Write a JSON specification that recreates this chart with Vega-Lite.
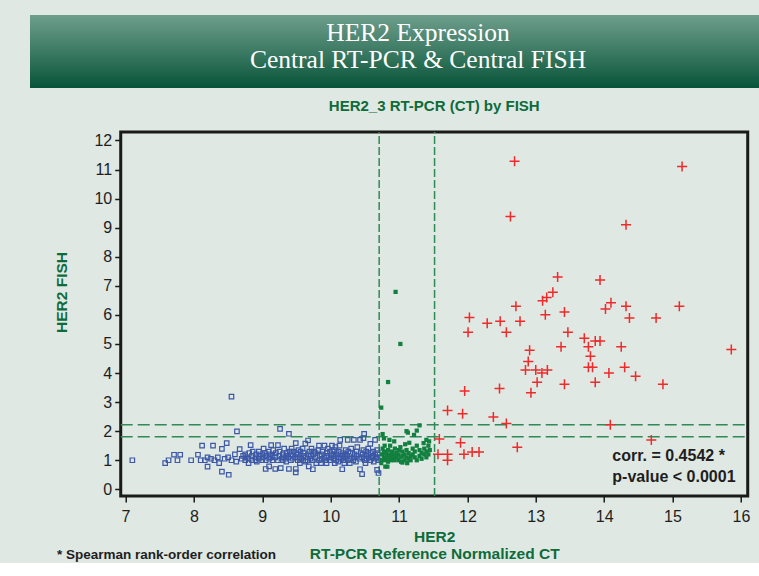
{
  "$schema": "https://vega.github.io/schema/vega-lite/v6.json",
  "background": "#dfe8e3",
  "padding": {"left": 30, "top": 15, "right": -83, "bottom": 0},
  "spacing": 9,
  "center": true,
  "config": {
    "view": {"stroke": null},
    "font": "Liberation Sans, Arial, sans-serif"
  },
  "title": {
    "text": "* Spearman rank-order correlation",
    "orient": "bottom",
    "anchor": "start",
    "offset": -15,
    "dx": 27,
    "fontSize": 13.5,
    "fontWeight": "bold",
    "color": "#1e1e1e",
    "font": "Liberation Sans, Arial, sans-serif"
  },
  "datasets": {
    "banner": [
      {"t": "HER2 Expression", "p": 0.72},
      {"t": "Central RT-PCR & Central FISH", "p": 1.8}
    ],
    "blue": [
      {"x":7.1,"y":1.0},{"x":7.58,"y":0.9},{"x":7.63,"y":1.0},{"x":7.71,"y":1.19},{"x":7.8,"y":1.19},{"x":7.76,"y":1.0},{"x":7.96,"y":1.0},{"x":8.06,"y":1.19},{"x":8.12,"y":1.5},{"x":8.1,"y":1.0},{"x":8.16,"y":1.0},{"x":8.2,"y":1.1},{"x":8.2,"y":0.78},{"x":8.28,"y":1.5},{"x":8.25,"y":1.05},{"x":8.3,"y":1.0},{"x":8.35,"y":1.1},{"x":8.37,"y":0.9},{"x":8.41,"y":1.39},{"x":8.48,"y":1.59},{"x":8.41,"y":0.61},{"x":8.51,"y":0.5},{"x":8.45,"y":1.05},{"x":8.5,"y":1.1},{"x":8.55,"y":1.0},{"x":8.55,"y":3.19},{"x":8.63,"y":1.99},{"x":8.6,"y":1.2},{"x":8.62,"y":0.95},{"x":8.67,"y":1.38},{"x":8.7,"y":1.05},{"x":8.72,"y":1.15},
      {"x":8.75,"y":1.0},{"x":8.75,"y":1.2},{"x":8.76,"y":1.1},
      {"x":8.8,"y":0.9},{"x":8.8,"y":1.05},{"x":8.81,"y":1.25},{"x":8.83,"y":1.52},
      {"x":8.85,"y":1.0},{"x":8.85,"y":1.15},{"x":8.86,"y":1.3},
      {"x":8.9,"y":1.1},{"x":8.9,"y":1.0},{"x":8.91,"y":1.2},{"x":8.92,"y":0.95},
      {"x":8.95,"y":1.05},{"x":8.95,"y":1.3},{"x":8.96,"y":1.15},
      {"x":9.0,"y":1.0},{"x":9.0,"y":1.2},{"x":9.01,"y":1.1},{"x":9.02,"y":1.4},
      {"x":9.05,"y":0.7},{"x":9.05,"y":1.0},{"x":9.06,"y":1.15},{"x":9.04,"y":1.25},
      {"x":9.1,"y":0.79},{"x":9.1,"y":1.05},{"x":9.11,"y":1.2},{"x":9.09,"y":1.3},{"x":9.12,"y":1.1},
      {"x":9.13,"y":1.52},
      {"x":9.15,"y":1.0},{"x":9.15,"y":1.15},{"x":9.16,"y":1.35},
      {"x":9.19,"y":0.7},{"x":9.19,"y":1.1},{"x":9.2,"y":1.25},
      {"x":9.23,"y":1.52},{"x":9.23,"y":1.0},
      {"x":9.26,"y":2.08},{"x":9.25,"y":1.15},{"x":9.25,"y":1.3},
      {"x":9.27,"y":0.73},{"x":9.28,"y":1.05},
      {"x":9.3,"y":1.0},{"x":9.3,"y":1.2},{"x":9.31,"y":1.1},{"x":9.32,"y":1.4},
      {"x":9.35,"y":0.95},{"x":9.35,"y":1.15},{"x":9.36,"y":1.25},{"x":9.34,"y":1.05},
      {"x":9.39,"y":0.7},{"x":9.39,"y":1.91},{"x":9.38,"y":1.1},{"x":9.4,"y":1.3},
      {"x":9.42,"y":1.0},{"x":9.42,"y":1.2},{"x":9.43,"y":1.4},
      {"x":9.45,"y":1.05},{"x":9.45,"y":1.15},{"x":9.46,"y":1.3},
      {"x":9.49,"y":0.7},{"x":9.49,"y":0.58},{"x":9.49,"y":1.59},{"x":9.48,"y":1.1},{"x":9.5,"y":1.25},
      {"x":9.52,"y":1.0},{"x":9.52,"y":1.2},{"x":9.53,"y":1.35},
      {"x":9.55,"y":0.9},{"x":9.55,"y":1.1},{"x":9.56,"y":1.3},{"x":9.57,"y":1.05},
      {"x":9.6,"y":1.0},{"x":9.6,"y":1.15},{"x":9.61,"y":1.25},{"x":9.59,"y":1.4},
      {"x":9.63,"y":1.57},{"x":9.63,"y":0.95},{"x":9.64,"y":1.1},
      {"x":9.67,"y":1.68},{"x":9.67,"y":1.2},{"x":9.66,"y":1.0},
      {"x":9.68,"y":0.79},{"x":9.69,"y":1.3},
      {"x":9.7,"y":1.05},{"x":9.71,"y":1.15},{"x":9.72,"y":1.4},
      {"x":9.74,"y":0.69},{"x":9.74,"y":1.0},{"x":9.75,"y":1.2},{"x":9.76,"y":1.3},
      {"x":9.78,"y":1.1},{"x":9.78,"y":1.25},{"x":9.79,"y":0.9},
      {"x":9.83,"y":1.5},{"x":9.83,"y":1.0},{"x":9.84,"y":1.15},{"x":9.82,"y":1.35},
      {"x":9.87,"y":1.05},{"x":9.87,"y":1.2},{"x":9.88,"y":1.3},{"x":9.86,"y":0.9},
      {"x":9.91,"y":1.5},{"x":9.91,"y":1.1},{"x":9.92,"y":1.0},
      {"x":9.95,"y":1.15},{"x":9.95,"y":1.25},{"x":9.96,"y":1.4},{"x":9.94,"y":0.9},
      {"x":10.0,"y":1.0},{"x":10.0,"y":1.1},{"x":10.01,"y":1.2},{"x":9.99,"y":1.3},{"x":10.02,"y":1.5},
      {"x":10.04,"y":1.05},{"x":10.04,"y":1.15},{"x":10.05,"y":1.35},{"x":10.06,"y":0.9},
      {"x":10.08,"y":1.0},{"x":10.08,"y":1.2},{"x":10.09,"y":1.25},{"x":10.07,"y":1.45},
      {"x":10.12,"y":1.1},{"x":10.12,"y":1.3},{"x":10.11,"y":0.95},{"x":10.13,"y":1.5},
      {"x":10.14,"y":1.7},{"x":10.15,"y":1.05},
      {"x":10.17,"y":0.69},{"x":10.17,"y":1.15},{"x":10.18,"y":1.25},{"x":10.19,"y":1.0},
      {"x":10.21,"y":1.1},{"x":10.21,"y":1.2},{"x":10.22,"y":1.35},{"x":10.2,"y":0.9},
      {"x":10.25,"y":1.7},{"x":10.25,"y":1.0},{"x":10.26,"y":1.3},{"x":10.24,"y":1.15},
      {"x":10.29,"y":1.05},{"x":10.29,"y":1.25},{"x":10.3,"y":1.4},{"x":10.28,"y":0.9},
      {"x":10.34,"y":1.7},{"x":10.34,"y":1.1},{"x":10.35,"y":1.2},{"x":10.33,"y":1.0},
      {"x":10.38,"y":1.15},{"x":10.38,"y":1.3},{"x":10.39,"y":1.45},{"x":10.37,"y":0.95},
      {"x":10.43,"y":1.7},{"x":10.43,"y":0.69},{"x":10.42,"y":1.05},{"x":10.44,"y":1.25},
      {"x":10.46,"y":0.52},{"x":10.46,"y":1.1},{"x":10.47,"y":1.2},
      {"x":10.48,"y":1.76},{"x":10.48,"y":1.35},
      {"x":10.49,"y":1.91},{"x":10.5,"y":1.0},
      {"x":10.52,"y":1.15},{"x":10.52,"y":1.3},{"x":10.53,"y":1.05},{"x":10.51,"y":0.9},
      {"x":10.55,"y":1.2},{"x":10.55,"y":1.4},{"x":10.56,"y":1.1},
      {"x":10.58,"y":1.56},{"x":10.58,"y":1.0},{"x":10.59,"y":1.25},
      {"x":10.62,"y":1.1},{"x":10.62,"y":1.3},{"x":10.61,"y":1.15},{"x":10.63,"y":0.95},
      {"x":10.65,"y":1.7},{"x":10.65,"y":1.2},{"x":10.66,"y":1.05},
      {"x":10.68,"y":0.67},{"x":10.68,"y":1.35},{"x":10.67,"y":1.1},
      {"x":10.7,"y":0.56},{"x":10.7,"y":1.0},{"x":10.69,"y":1.25}
    ],
    "green": [
      {"x":10.95,"y":6.79},{"x":11.02,"y":5.0},{"x":10.84,"y":3.69},{"x":10.74,"y":2.81},{"x":11.3,"y":2.2},{"x":11.11,"y":2.0},{"x":11.13,"y":1.95},{"x":11.26,"y":2.02},{"x":11.22,"y":1.87},{"x":10.76,"y":1.9},{"x":11.4,"y":1.7},{"x":11.36,"y":1.59},{"x":10.8,"y":0.78},{"x":10.83,"y":0.78},{"x":11.05,"y":0.92},{"x":11.12,"y":0.9},{"x":10.78,"y":1.75},{"x":10.86,"y":1.7},{"x":10.93,"y":1.65},
      {"x":10.75,"y":1.0},{"x":10.75,"y":1.2},{"x":10.76,"y":1.4},{"x":10.74,"y":0.9},
      {"x":10.78,"y":1.1},{"x":10.78,"y":1.3},{"x":10.79,"y":1.5},
      {"x":10.81,"y":1.0},{"x":10.81,"y":1.25},{"x":10.82,"y":1.15},
      {"x":10.84,"y":1.05},{"x":10.84,"y":1.35},{"x":10.85,"y":1.2},{"x":10.84,"y":0.95},
      {"x":10.87,"y":1.1},{"x":10.87,"y":1.5},{"x":10.88,"y":1.0},
      {"x":10.9,"y":1.2},{"x":10.9,"y":1.3},{"x":10.91,"y":1.05},
      {"x":10.93,"y":1.15},{"x":10.93,"y":1.0},{"x":10.94,"y":1.4},
      {"x":10.96,"y":1.1},{"x":10.96,"y":1.25},
      {"x":10.99,"y":1.0},{"x":10.99,"y":1.2},{"x":11.0,"y":1.35},
      {"x":11.02,"y":1.1},{"x":11.02,"y":1.45},{"x":11.03,"y":0.95},
      {"x":11.05,"y":1.15},{"x":11.05,"y":1.3},
      {"x":11.08,"y":1.0},{"x":11.08,"y":1.2},{"x":11.09,"y":1.55},
      {"x":11.11,"y":1.1},{"x":11.11,"y":1.35},
      {"x":11.14,"y":1.05},{"x":11.14,"y":1.25},{"x":11.15,"y":1.6},
      {"x":11.17,"y":1.15},{"x":11.17,"y":1.0},
      {"x":11.2,"y":1.2},{"x":11.2,"y":1.4},
      {"x":11.23,"y":1.1},{"x":11.23,"y":1.3},
      {"x":11.26,"y":1.0},{"x":11.26,"y":1.5},
      {"x":11.3,"y":1.15},{"x":11.3,"y":1.35},
      {"x":11.33,"y":1.25},{"x":11.33,"y":1.05},
      {"x":11.37,"y":1.2},{"x":11.37,"y":1.4},
      {"x":11.4,"y":1.1},{"x":11.4,"y":1.3},
      {"x":11.43,"y":1.5},{"x":11.43,"y":1.2},{"x":11.44,"y":1.65},
      {"x":11.45,"y":1.35}
    ],
    "red": [
      {"x":12.69,"y":11.28},{"x":15.14,"y":11.1},{"x":12.63,"y":9.38},{"x":14.32,"y":9.1},{"x":13.32,"y":7.3},{"x":13.94,"y":7.2},{"x":13.25,"y":6.78},{"x":13.16,"y":6.6},{"x":13.1,"y":6.49},{"x":14.1,"y":6.42},{"x":14.02,"y":6.2},{"x":12.71,"y":6.3},{"x":14.32,"y":6.3},{"x":15.1,"y":6.3},{"x":12.03,"y":5.91},{"x":13.42,"y":6.1},{"x":14.37,"y":5.89},{"x":14.76,"y":5.89},{"x":12.29,"y":5.71},{"x":12.48,"y":5.78},{"x":12.77,"y":5.78},{"x":13.14,"y":6.0},{"x":12.01,"y":5.4},{"x":12.57,"y":5.4},{"x":13.47,"y":5.4},{"x":13.71,"y":5.2},{"x":13.87,"y":5.1},{"x":13.94,"y":5.1},{"x":13.77,"y":4.9},{"x":13.37,"y":4.9},{"x":14.25,"y":4.9},{"x":13.8,"y":4.58},{"x":15.86,"y":4.81},{"x":13.77,"y":4.2},{"x":13.83,"y":4.2},{"x":14.3,"y":4.2},{"x":13.09,"y":4.0},{"x":13.17,"y":4.1},{"x":14.07,"y":4.0},{"x":14.46,"y":3.89},{"x":13.42,"y":3.61},{"x":13.87,"y":3.68},{"x":14.86,"y":3.61},{"x":13.02,"y":3.68},{"x":14.09,"y":2.22},{"x":14.69,"y":1.7},{"x":12.91,"y":4.78},{"x":12.89,"y":4.4},{"x":12.85,"y":4.1},{"x":13.0,"y":4.1},{"x":11.96,"y":3.38},{"x":12.47,"y":3.47},{"x":12.93,"y":3.32},{"x":11.71,"y":2.71},{"x":11.93,"y":2.6},{"x":12.38,"y":2.49},{"x":12.57,"y":2.26},{"x":11.59,"y":1.73},{"x":11.9,"y":1.6},{"x":12.73,"y":1.45},{"x":11.57,"y":1.21},{"x":11.71,"y":1.21},{"x":11.71,"y":1.0},{"x":11.95,"y":1.21},{"x":12.07,"y":1.28},{"x":12.17,"y":1.28}
    ],
    "vrules": [{"x": 10.71, "y": -0.23, "y2": 12.29}, {"x": 11.52, "y": -0.23, "y2": 12.29}],
    "hrules": [{"y": 2.22, "x": 6.93, "x2": 16.1}, {"y": 1.81, "x": 6.93, "x2": 16.1}],
    "notes": [{"x": 14.12, "y": 1.15, "t": "corr. = 0.4542 *"}, {"x": 14.12, "y": 0.44, "t": "p-value < 0.0001"}]
  },
  "vconcat": [
    {
      "width": 812,
      "height": 73,
      "view": {
        "stroke": null,
        "fill": {
          "gradient": "linear",
          "x1": 0, "y1": 0, "x2": 0, "y2": 1,
          "stops": [
            {"offset": 0, "color": "#6e9e8c"},
            {"offset": 0.5, "color": "#3c7a63"},
            {"offset": 1, "color": "#07543a"}
          ]
        }
      },
      "data": {"name": "banner"},
      "mark": {"type": "text", "font": "Liberation Serif, DejaVu Serif, serif", "fontSize": 25.5, "color": "#ffffff", "dx": -18, "baseline": "middle"},
      "encoding": {
        "y": {"field": "p", "type": "quantitative", "scale": {"domain": [0, 2.92], "reverse": true}, "axis": null},
        "text": {"field": "t", "type": "nominal"}
      }
    },
    {
      "width": 627,
      "height": 364,
      "view": {"stroke": "#1a1a1a", "strokeWidth": 3},
      "title": {
        "text": "HER2_3 RT-PCR (CT) by FISH",
        "fontSize": 15,
        "fontWeight": "bold",
        "color": "#0e6b3a",
        "offset": 17,
        "anchor": "middle"
      },
      "encoding": {
        "x": {
          "field": "x", "type": "quantitative",
          "scale": {"domain": [6.93, 16.1], "nice": false, "zero": false},
          "axis": {
            "title": ["HER2", "RT-PCR Reference Normalized CT"],
            "titleColor": "#0e6b3a", "titleFontSize": 15.5, "titleFontWeight": "bold", "titleLineHeight": 17, "titlePadding": 5,
            "values": [7, 8, 9, 10, 11, 12, 13, 14, 15, 16],
            "format": "d",
            "domain": false, "grid": false,
            "tickColor": "#1a1a1a", "tickWidth": 1.5, "tickSize": 6,
            "labelFontSize": 16, "labelColor": "#1e1e1e", "labelPadding": 6
          }
        },
        "y": {
          "field": "y", "type": "quantitative",
          "scale": {"domain": [-0.23, 12.29], "nice": false, "zero": false},
          "axis": {
            "title": "HER2 FISH",
            "titleColor": "#0e6b3a", "titleFontSize": 15.5, "titleFontWeight": "bold",
            "titleX": -51, "titleY": 160,
            "values": [0, 1, 2, 3, 4, 5, 6, 7, 8, 9, 10, 11, 12],
            "format": "d",
            "domain": false, "grid": false,
            "tickColor": "#1a1a1a", "tickWidth": 1.5, "tickSize": 6,
            "labelFontSize": 16, "labelColor": "#1e1e1e", "labelPadding": 3
          }
        }
      },
      "layer": [
        {
          "data": {"name": "vrules"},
          "mark": {"type": "rule", "color": "#2f8a55", "strokeWidth": 1.5, "strokeDash": [8, 3]},
          "encoding": {"y2": {"field": "y2"}}
        },
        {
          "data": {"name": "hrules"},
          "mark": {"type": "rule", "color": "#2f8a55", "strokeWidth": 1.5, "strokeDash": [12, 5]},
          "encoding": {"x2": {"field": "x2"}}
        },
        {
          "data": {"name": "blue"},
          "mark": {"type": "point", "shape": "square", "filled": false, "color": "#3b57a6", "strokeWidth": 1.2, "size": 20, "opacity": 1}
        },
        {
          "data": {"name": "green"},
          "mark": {"type": "point", "shape": "square", "filled": true, "color": "#12803f", "size": 18, "opacity": 1}
        },
        {
          "data": {"name": "red"},
          "mark": {"type": "point", "shape": "M-1,0L1,0M0,-1L0,1", "filled": false, "color": "#ee2a2a", "strokeWidth": 1.5, "size": 100, "opacity": 1}
        },
        {
          "data": {"name": "notes"},
          "mark": {"type": "text", "align": "left", "baseline": "middle", "fontSize": 16, "fontWeight": "bold", "color": "#1e1e1e"},
          "encoding": {"text": {"field": "t", "type": "nominal"}}
        }
      ]
    }
  ]
}
